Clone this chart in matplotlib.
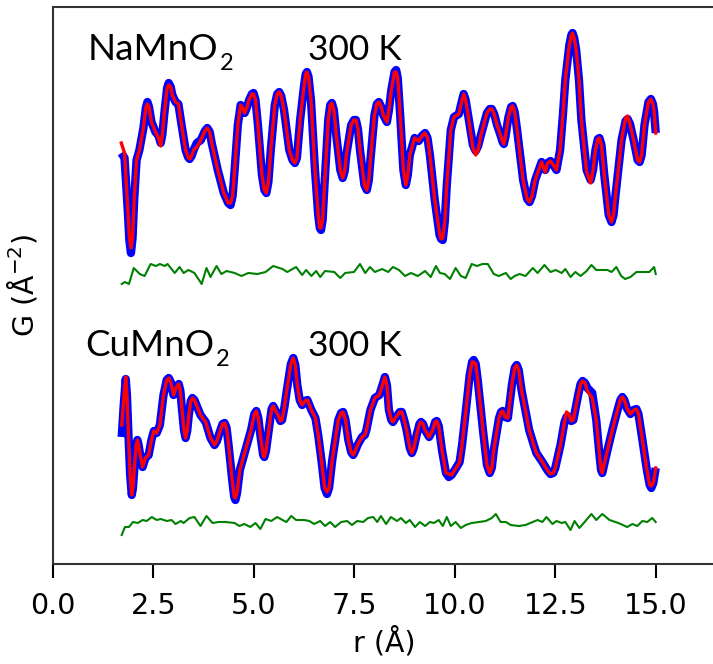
import matplotlib
matplotlib.use("Agg")
import matplotlib.pyplot as plt

# PDF fits at 300 K: observed (blue), fit (red), difference (green)
# G in arbitrary units; every trace gets its own vertical offset below

# NaMnO2, observed G(r) as (r, G) pairs
na_obs = [
    (1.70, -0.3), (1.78, -0.8), (1.86, -6.0), (1.90, -9.0), (1.94, -10.3), (1.98, -8.8),
    (2.02, -5.0), (2.08, -1.0), (2.15, 0.0), (2.25, 2.2), (2.31, 4.2), (2.35, 4.8), (2.39, 4.3),
    (2.45, 2.8), (2.55, 1.8), (2.62, 1.5), (2.68, 0.7), (2.72, 1.5), (2.78, 4.0), (2.84, 6.2),
    (2.88, 6.7), (2.93, 6.3), (2.97, 5.5), (3.05, 4.8), (3.12, 4.6), (3.20, 2.5), (3.30, 0.0),
    (3.36, -0.7), (3.40, -0.9), (3.45, -0.6), (3.50, 0.0), (3.58, 0.7), (3.68, 1.0), (3.78, 1.9),
    (3.84, 2.2), (3.90, 1.8), (3.95, 0.7), (4.10, -2.0), (4.25, -4.3), (4.36, -5.3), (4.42, -5.5),
    (4.47, -4.6), (4.52, -2.0), (4.60, 2.5), (4.67, 4.5), (4.72, 4.2), (4.77, 3.7), (4.83, 4.3),
    (4.88, 5.0), (4.95, 5.6), (4.99, 5.7), (5.04, 5.0), (5.10, 2.5), (5.20, -2.5), (5.26, -4.0),
    (5.31, -4.3), (5.36, -3.2), (5.42, 0.0), (5.52, 4.5), (5.58, 5.6), (5.63, 5.8), (5.68, 5.4),
    (5.75, 4.0), (5.88, 0.0), (5.96, -1.0), (6.02, -1.3), (6.07, -0.8), (6.15, 3.0), (6.25, 6.5),
    (6.29, 7.6), (6.32, 7.8), (6.36, 7.3), (6.42, 5.0), (6.52, -2.0), (6.60, -6.5), (6.64, -7.8),
    (6.67, -8.0), (6.71, -7.0), (6.75, -4.0), (6.85, 3.0), (6.90, 4.5), (6.94, 4.7), (6.99, 4.0),
    (7.05, 1.5), (7.15, -2.0), (7.21, -2.8), (7.26, -2.1), (7.30, -0.5), (7.42, 2.5), (7.49, 3.0),
    (7.54, 3.0), (7.59, 2.1), (7.64, 0.0), (7.75, -3.5), (7.81, -4.0), (7.86, -3.0), (7.90, -1.0),
    (8.00, 3.5), (8.06, 4.6), (8.11, 4.8), (8.17, 4.3), (8.22, 3.5), (8.31, 2.8), (8.36, 4.0),
    (8.42, 6.0), (8.50, 7.8), (8.54, 8.0), (8.58, 7.2), (8.64, 3.5), (8.72, -2.0), (8.78, -3.5),
    (8.83, -2.5), (8.88, -0.5), (9.00, 1.2), (9.10, 0.9), (9.18, 1.4), (9.26, 1.7), (9.32, 1.2),
    (9.38, -0.5), (9.50, -5.0), (9.62, -8.5), (9.66, -8.9), (9.70, -9.0), (9.75, -7.2),
    (9.80, -3.5), (9.90, 2.0), (9.98, 3.3), (10.10, 3.6), (10.17, 4.8), (10.22, 5.6), (10.27, 5.0),
    (10.33, 3.5), (10.45, 0.5), (10.52, -0.1), (10.58, 0.4), (10.65, 1.5), (10.80, 3.7),
    (10.87, 4.1), (10.92, 4.1), (10.98, 3.6), (11.05, 2.5), (11.12, 1.7), (11.19, 0.8),
    (11.22, 0.6), (11.26, 1.3), (11.33, 3.2), (11.40, 4.3), (11.44, 4.4), (11.49, 3.8),
    (11.55, 2.0), (11.70, -3.0), (11.80, -4.9), (11.86, -5.2), (11.92, -4.6), (12.00, -3.0),
    (12.16, -1.2), (12.25, -2.0), (12.31, -1.3), (12.38, -1.1), (12.45, -1.5), (12.53, -2.0),
    (12.62, 0.0), (12.69, 3.5), (12.75, 7.0), (12.85, 10.5), (12.90, 11.5), (12.93, 11.7),
    (12.97, 11.2), (13.02, 10.0), (13.09, 7.0), (13.15, 3.0), (13.28, -2.0), (13.38, -3.0),
    (13.44, -2.0), (13.50, 0.0), (13.56, 1.1), (13.60, 1.2), (13.65, 0.5), (13.72, -2.5),
    (13.83, -6.5), (13.90, -7.2), (13.95, -6.5), (14.00, -4.5), (14.15, 1.0), (14.25, 2.9),
    (14.30, 3.1), (14.36, 2.6), (14.45, 1.0), (14.55, -1.0), (14.60, -1.2), (14.65, -0.5),
    (14.72, 2.5), (14.82, 4.8), (14.88, 5.1), (14.93, 4.6), (14.96, 3.8), (15.00, 1.7),
]
# fitted curve, only where it departs from the data
na_fit_diffs = {1.70: 0.7, 1.78: -0.3, 1.86: -5.8, 1.90: -8.6, 1.94: -9.8, 2.35: 4.6, 2.62: 1.3,
                2.68: 0.4, 2.88: 6.5, 3.58: 0.3, 4.42: -5.3, 4.99: 5.6, 6.67: -7.8, 8.54: 7.8,
                9.62: -8.3, 9.70: -8.8, 10.45: 0.2, 10.52: -0.5, 10.58: 0.0, 12.25: -2.2,
                13.28: -2.2, 13.38: -3.3, 14.25: 3.2, 14.30: 3.4}

# CuMnO2, observed G(r)
cu_obs = [
    (1.71, -0.7), (1.76, 2.5), (1.81, 5.1), (1.84, 3.5), (1.88, -0.7), (1.92, -4.5), (1.96, -6.5),
    (1.99, -5.8), (2.03, -3.5), (2.07, -1.6), (2.10, -1.0), (2.13, -1.5), (2.17, -2.5),
    (2.23, -3.7), (2.30, -2.8), (2.38, -2.5), (2.45, -1.0), (2.51, -0.1), (2.58, -0.3), (2.66, 0.5),
    (2.75, 3.5), (2.83, 5.0), (2.88, 5.2), (2.93, 4.8), (3.00, 3.5), (3.07, 4.3), (3.13, 4.6),
    (3.17, 3.9), (3.20, 2.5), (3.26, 0.0), (3.30, -0.8), (3.34, -0.1), (3.38, 1.5), (3.43, 2.9),
    (3.47, 3.2), (3.52, 3.0), (3.57, 2.5), (3.67, 1.5), (3.80, 0.8), (3.92, -0.8), (4.02, -1.5),
    (4.08, -1.1), (4.15, -0.2), (4.22, 0.6), (4.27, 0.7), (4.32, 0.2), (4.37, -1.5), (4.46, -5.0),
    (4.51, -6.7), (4.54, -7.0), (4.58, -6.3), (4.65, -4.0), (4.79, -2.0), (4.93, 0.0), (5.01, 1.6),
    (5.06, 1.9), (5.11, 1.2), (5.16, -0.5), (5.23, -2.5), (5.26, -2.7), (5.30, -2.1), (5.37, 0.0),
    (5.44, 2.1), (5.48, 2.4), (5.53, 2.0), (5.60, 1.5), (5.66, 0.9), (5.70, 1.0), (5.76, 2.3),
    (5.82, 4.0), (5.92, 6.6), (5.98, 7.2), (6.03, 6.5), (6.08, 4.5), (6.14, 3.0), (6.20, 2.5),
    (6.27, 2.9), (6.33, 3.0), (6.43, 2.0), (6.53, 1.2), (6.60, -0.5), (6.68, -3.0), (6.76, -5.8),
    (6.82, -6.4), (6.87, -5.8), (6.95, -3.0), (7.10, 1.0), (7.17, 1.7), (7.22, 1.8), (7.28, 1.0),
    (7.35, -1.0), (7.42, -2.2), (7.47, -2.5), (7.52, -2.1), (7.58, -1.5), (7.69, -0.7),
    (7.76, -0.5), (7.80, 0.0), (7.90, 2.0), (8.01, 3.2), (8.12, 3.5), (8.20, 4.5), (8.26, 5.3),
    (8.31, 4.5), (8.36, 2.0), (8.42, 1.0), (8.46, 0.8), (8.52, 1.2), (8.56, 1.4), (8.63, 1.8),
    (8.68, 1.8), (8.74, 1.0), (8.80, 0.0), (8.88, -1.8), (8.93, -2.3), (8.98, -1.8), (9.05, -0.5),
    (9.12, 0.6), (9.16, 0.8), (9.21, 0.6), (9.26, 0.0), (9.36, -0.7), (9.45, 0.0), (9.51, 0.8),
    (9.55, 0.9), (9.60, 0.4), (9.68, -2.0), (9.78, -4.3), (9.85, -4.7), (9.92, -4.5),
    (10.00, -4.0), (10.12, -3.2), (10.18, -1.5), (10.25, 1.0), (10.37, 5.5), (10.43, 6.8),
    (10.47, 7.0), (10.52, 6.6), (10.57, 5.0), (10.70, 0.0), (10.80, -3.5), (10.87, -4.3),
    (10.92, -3.8), (10.97, -2.0), (11.10, 1.2), (11.15, 1.8), (11.19, 1.9), (11.25, 1.3),
    (11.32, 1.2), (11.42, 4.5), (11.49, 6.2), (11.54, 6.5), (11.59, 6.0), (11.66, 4.0),
    (11.85, 0.0), (11.95, -1.3), (12.03, -2.3), (12.18, -3.2), (12.30, -4.0), (12.38, -4.4),
    (12.45, -4.3), (12.50, -3.8), (12.63, -1.5), (12.73, 0.8), (12.78, 1.3), (12.84, 1.3),
    (12.90, 0.9), (12.95, 1.0), (13.07, 3.5), (13.13, 4.6), (13.18, 4.9), (13.24, 4.7),
    (13.30, 4.2), (13.42, 3.7), (13.52, 1.0), (13.60, -2.5), (13.64, -4.0), (13.67, -4.3),
    (13.71, -3.6), (13.80, -2.0), (13.92, 0.0), (14.05, 2.0), (14.12, 3.0), (14.17, 3.3),
    (14.22, 3.0), (14.28, 2.2), (14.37, 1.6), (14.45, 2.0), (14.52, 2.1), (14.57, 1.6),
    (14.65, -0.5), (14.78, -4.0), (14.85, -5.5), (14.89, -5.8), (14.94, -5.3), (15.00, -3.8),
]
cu_fit_diffs = {1.71: 0.5, 1.76: 3.0, 1.81: 5.3, 4.54: -6.8, 6.82: -6.2, 9.85: -4.4, 10.47: 6.8,
                12.78: 1.8, 12.84: 1.6, 13.30: 3.9, 13.42: 3.2, 14.89: -5.6}

# difference curves (obs - fit)
na_diff = [
    (1.71, -1.1), (1.79, -0.9), (1.89, -1.1), (2.01, 0.5), (2.16, -0.1), (2.28, -0.3), (2.43, 0.9),
    (2.56, 0.7), (2.66, 0.9), (2.78, 0.7), (2.85, 0.9), (3.03, 0.0), (3.15, 0.6), (3.25, 0.0),
    (3.37, 0.3), (3.52, 0.0), (3.70, -1.1), (3.82, 0.5), (3.92, -0.4), (4.07, 0.7), (4.19, -0.1),
    (4.32, 0.2), (4.52, 0.0), (4.69, -0.3), (4.86, 0.0), (5.09, -0.1), (5.29, 0.1), (5.48, 0.7),
    (5.71, 0.4), (5.83, 0.1), (6.05, 0.6), (6.20, -0.2), (6.30, 0.3), (6.43, -0.3), (6.55, 0.2),
    (6.65, -0.4), (6.77, 0.2), (7.00, 0.1), (7.15, -0.5), (7.27, 0.0), (7.49, 0.1), (7.64, 0.9),
    (7.77, 0.0), (7.89, 0.6), (8.01, 0.1), (8.19, 0.4), (8.34, 0.1), (8.46, 0.6), (8.61, 0.3),
    (8.76, -0.3), (8.91, 0.0), (9.08, -0.3), (9.26, 0.2), (9.40, -0.4), (9.53, 0.7), (9.63, 0.0),
    (9.75, -0.1), (9.88, -0.6), (10.02, 0.5), (10.15, -0.3), (10.27, -0.5), (10.42, 0.9),
    (10.55, 0.7), (10.69, 0.9), (10.82, 0.9), (10.97, -0.1), (11.09, -0.3), (11.27, 0.0),
    (11.39, -0.6), (11.49, -0.3), (11.61, -0.1), (11.76, -0.3), (11.94, 0.5), (12.06, 0.0),
    (12.23, 0.8), (12.38, 0.1), (12.51, 0.3), (12.66, 0.0), (12.75, 0.4), (12.88, -0.4),
    (13.00, 0.1), (13.13, -0.3), (13.28, 0.2), (13.40, 0.8), (13.52, 0.3), (13.80, 0.3),
    (13.90, 0.1), (14.02, 0.6), (14.14, -0.3), (14.24, -0.6), (14.37, -0.4), (14.52, 0.1),
    (14.69, 0.1), (14.84, 0.1), (14.96, 0.6), (15.00, -0.1),
]
cu_diff = [
    (1.71, -1.3), (1.79, -0.5), (1.89, -0.5), (1.99, 0.0), (2.11, -0.1), (2.23, 0.2), (2.33, 0.1),
    (2.46, 0.5), (2.58, 0.2), (2.68, 0.3), (2.83, 0.1), (2.95, 0.2), (3.05, -0.2), (3.18, 0.1),
    (3.25, -0.1), (3.40, 0.4), (3.52, 0.5), (3.67, -0.4), (3.82, 0.6), (3.97, -0.1), (4.12, 0.0),
    (4.29, 0.0), (4.52, -0.1), (4.64, -0.4), (4.76, -0.2), (4.91, -0.5), (5.04, -0.1),
    (5.16, -0.7), (5.29, 0.3), (5.43, 0.1), (5.58, 0.5), (5.71, 0.2), (5.81, 0.0), (5.93, 0.6),
    (6.05, 0.2), (6.25, 0.2), (6.38, 0.1), (6.50, -0.2), (6.65, 0.1), (6.77, -0.4), (6.90, 0.0),
    (7.02, -0.5), (7.17, 0.0), (7.32, 0.1), (7.44, -0.3), (7.57, 0.1), (7.72, 0.0), (7.84, 0.4),
    (7.97, 0.5), (8.07, 0.0), (8.16, 0.6), (8.29, -0.2), (8.41, 0.5), (8.56, 0.1), (8.66, 0.4),
    (8.78, -0.1), (8.88, 0.2), (9.01, -0.5), (9.13, 0.0), (9.26, -0.4), (9.38, 0.0), (9.48, -0.1),
    (9.60, 0.2), (9.70, -0.4), (9.80, 0.5), (9.90, -0.4), (10.02, 0.0), (10.15, -0.6),
    (10.27, -0.3), (10.42, -0.1), (10.60, 0.0), (10.77, 0.1), (10.92, 0.4), (11.02, 0.8),
    (11.14, 0.0), (11.27, 0.0), (11.39, -0.3), (11.59, -0.4), (11.76, -0.3), (11.94, 0.0),
    (12.06, 0.2), (12.18, 0.0), (12.28, 0.5), (12.43, -0.2), (12.53, 0.1), (12.66, -0.1),
    (12.75, 0.0), (12.88, -0.8), (12.98, 0.1), (13.10, -0.6), (13.23, 0.0), (13.40, 0.8),
    (13.52, 0.2), (13.67, 0.8), (13.85, 0.2), (14.07, -0.1), (14.29, -0.5), (14.42, -0.2),
    (14.54, -0.4), (14.67, 0.1), (14.79, 0.0), (14.91, 0.4), (15.00, 0.0),
]

# vertical offsets of each trace
off_na = 41.4
off_na_diff = 29.1
off_cu = 13.4
off_cu_diff = 4.2

fig = plt.figure(figsize=(7.13, 6.64), dpi=100)
ax = fig.add_axes([53 / 713, 100 / 664, 663 / 713, 557 / 664])


def draw(obs, fit_diffs, diff, off, off_diff):
    r = [p[0] for p in obs]
    g = [p[1] for p in obs]
    g_fit = [fit_diffs.get(x, y) for x, y in obs]
    ax.plot(r, [v + off for v in g], color="blue", lw=6, solid_capstyle="butt")
    ax.plot(r, [v + off for v in g_fit], color="red", lw=2.4)
    ax.plot([p[0] for p in diff], [p[1] + off_diff for p in diff], color="green", lw=1.5)


draw(na_obs, na_fit_diffs, na_diff, off_na, off_na_diff)
draw(cu_obs, cu_fit_diffs, cu_diff, off_cu, off_cu_diff)

ax.set_xlim(0, 16.5)
ax.set_ylim(0, 55.7)
ax.set_xticks([0, 2.5, 5, 7.5, 10, 12.5, 15])
ax.set_xticklabels(["0.0", "2.5", "5.0", "7.5", "10.0", "12.5", "15.0"])
ax.set_yticks([])
ax.tick_params(axis="x", labelsize=20.5, length=10, width=1.5, pad=10)
for s in ax.spines.values():
    s.set_linewidth(1.5)
    s.set_color("#333333")

ax.set_xlabel("r (Å)", fontsize=20.5, labelpad=5)
ax.set_ylabel("G (Å$^{-2}$)", fontsize=20.5, labelpad=10)

# panel labels (PowerPoint-style font)
lab = dict(family="Lato", color="black")
for x, y, name in [(0.85, 50.4, "NaMnO"), (0.8, 20.8, "CuMnO")]:
    t = ax.text(x, y, name, fontsize=26.5, **lab)
    ax.annotate("2", xy=(1.0, 0.0), xycoords=t, xytext=(1.5, -6), textcoords="offset points",
                va="bottom", ha="left", fontsize=17, **lab)
    ax.text(6.35, y, "300 K", fontsize=25.5, **lab)

fig.savefig("out.png", dpi=100)
